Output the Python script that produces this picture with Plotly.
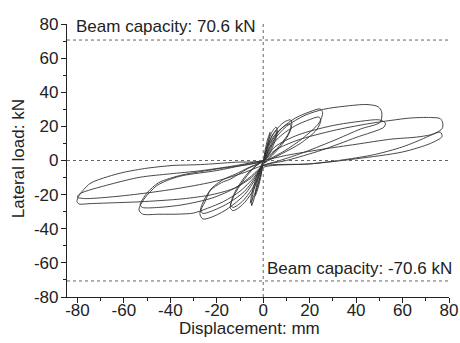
import plotly.graph_objects as go

# Hysteresis cycles (displacement mm, lateral load kN)
c1_x = [0, 0.8, 2.0, 3.0, 2.6, 1.2, 0, -0.8, -2.2, -3.4, -3.2, -1.5, 0]
c1_y = [-1, 6, 13, 16.6, 14, 5, -1, -8, -16, -20.5, -17, -7, -1]

c2_x = [0, 1.5, 3.5, 5.5, 6.0, 5.0, 2.5, 0, -1, -3, -5, -4.8, -3, -1, 0]
c2_y = [0, 8, 16, 19.6, 18, 13, 5, -2, -8, -18, -26.5, -22, -12, -4, 0]

c3_x = [0, 1.5, 4, 6, 5.5, 3, 0, -1.5, -3.5, -5.5, -5, -3, 0]
c3_y = [0, 7, 15, 17.5, 13, 5, -2, -10, -19, -25, -20, -10, 0]

c4_x = [0, 2, 5, 9, 11.8, 12.3, 10.5, 6, 2, 0, -2, -5, -9, -13, -14.2, -12, -7, -3, 0]
c4_y = [0, 9, 17, 22.5, 23.8, 21, 15, 7, 1, -2, -10, -19, -26, -29.4, -27.5, -19, -9, -3, 0]

c5_x = [0, 2, 5, 9, 11.5, 12, 10, 6, 2, 0, -2, -5, -9, -13, -14, -12, -7, -3, 0]
c5_y = [0, 8, 15, 20, 21.5, 19, 13, 6, 0.5, -2, -9, -17, -24, -27.5, -26, -18, -8, -3, 0]

c6_x = [0, 3, 8, 14, 20, 24.5, 25.6, 24, 17, 9, 3, 0, -3, -8, -15, -21, -26, -27.3, -25, -22.8, -18, -14, -7, 0]
c6_y = [0, 10, 19, 25, 28.5, 30.2, 28, 22, 13, 5.5, 1, -2, -10, -20, -28, -32.5, -34.3, -31, -24, -17.6, -13, -10.8, -5, 0]

c7_x = [0, 3, 8, 14, 20, 24, 24.8, 23, 16, 8, 3, 0, -3, -8, -15, -21, -26, -27, -25, -22, -17, -12, -6, 0]
c7_y = [0, 8, 15, 20.5, 24, 25.5, 23.5, 18, 10, 4, 0.5, -2, -9, -18, -25, -29, -31, -29, -22, -16, -11, -8, -4, 0]

c8_x = [0, 4, 10, 18, 26, 35, 44.7, 49.5, 51, 50.4, 42, 30, 16, 6, 0,
        -4, -10, -17, -24, -30, -36, -45, -52, -53.5, -53, -51, -45.8, -40, -34.5, -20, -8, 0]
c8_y = [0, 11, 20, 26.5, 30, 31.8, 32.8, 31.5, 28.5, 22.5, 18.5, 11.5, 4, -0.5, -3,
        -10, -18, -24, -28, -30.8, -31.4, -31.5, -31.4, -29, -26.5, -22, -14.7, -11, -8.8, -5.9, -2.5, 0]

c9_x = [0, 5, 15, 30, 42, 50, 52.6, 52, 40, 25, 10, 0,
        -5, -12, -22, -35, -45, -52, -53, -50, -45, -35, -20, 0]
c9_y = [0, 8, 15, 20.5, 23, 23.8, 22, 19.6, 13.5, 6, 0, -3,
        -9, -16, -22, -26, -27.5, -27.5, -26, -19, -13, -8.5, -5, 0]

c10_x = [0, 5, 15, 30, 45, 55, 63.4, 72, 76.3, 77.3, 77, 70, 60, 48, 35, 20, 0,
         -5, -12, -22, -35, -53, -65, -75, -79.3, -80.2, -79.5, -74.6, -67, -60, -50, -38.8, -27, -12, 0]
c10_y = [0, 6, 12, 17.5, 21.5, 23.5, 24.9, 25.2, 24.5, 22, 18.6, 13.5, 8, 3.5, 0.5, -2, -4,
         -10, -16, -20, -22.5, -24.2, -24.8, -25.3, -25.5, -24, -21, -13.5, -9.5, -6.9, -4.5, -2.9, -2.4, -1, 0]

c11_x = [0, 10, 25, 40, 55, 66, 72, 76.3, 77, 72, 60, 40, 20, 0,
         -8, -20, -35, -50, -65, -77, -80, -79, -66, -53, -40, -27, -12, 0]
c11_y = [0, 3, 6.5, 9.5, 12.5, 13.7, 15, 16.6, 14, 10, 5, 1, -2, -3,
         -7, -12, -16, -19, -21.3, -22.3, -21.5, -19.5, -14, -9.8, -7.8, -6, -3, 0]

cycles_x = [c1_x, c2_x, c3_x, c4_x, c5_x, c6_x, c7_x, c8_x, c9_x, c10_x, c11_x]
cycles_y = [c1_y, c2_y, c3_y, c4_y, c5_y, c6_y, c7_y, c8_y, c9_y, c10_y, c11_y]

beam_capacity = 70.6
x_ticks = [-80, -60, -40, -20, 0, 20, 40, 60, 80]
y_ticks = [-80, -60, -40, -20, 0, 20, 40, 60, 80]

FONT = "Liberation Sans, Arial, sans-serif"
TXT = "#222222"

fig = go.Figure()
for cx, cy in zip(cycles_x, cycles_y):
    fig.add_trace(go.Scatter(x=cx, y=cy, mode="lines",
                             line=dict(color="#333333", width=0.9, shape="spline", smoothing=0.8),
                             showlegend=False, hoverinfo="skip"))

dot = dict(color="#666666", width=1, dash="dot")
fig.add_shape(type="line", xref="x", yref="y", x0=-84.5, x1=80, y0=beam_capacity, y1=beam_capacity, line=dot)
fig.add_shape(type="line", xref="x", yref="y", x0=-84.5, x1=80, y0=-beam_capacity, y1=-beam_capacity, line=dot)
fig.add_shape(type="line", xref="x", yref="y", x0=-84.5, x1=80, y0=0, y1=0, line=dot)
fig.add_shape(type="line", xref="x", yref="y", x0=0, x1=0, y0=-80, y1=81, line=dot)

fig.add_annotation(x=-81.5, y=78.5, xref="x", yref="y", text=f"Beam capacity: {beam_capacity} kN",
                   showarrow=False, xanchor="left", yanchor="middle",
                   font=dict(family=FONT, size=17, color=TXT))
fig.add_annotation(x=0.8, y=-63.5, xref="x", yref="y", text=f"Beam capacity: -{beam_capacity} kN",
                   showarrow=False, xanchor="left", yanchor="middle",
                   font=dict(family=FONT, size=17, color=TXT))

# axis titles
fig.add_annotation(x=0.479, y=0, xref="paper", yref="paper", yshift=-31, text="Displacement: mm",
                   showarrow=False, xanchor="center", yanchor="middle",
                   font=dict(family=FONT, size=17, color=TXT))
fig.add_annotation(x=0, y=0.505, xref="paper", yref="paper", xshift=-49, text="Lateral load: kN",
                   textangle=-90, showarrow=False, xanchor="center", yanchor="middle",
                   font=dict(family=FONT, size=17, color=TXT))

axis_common = dict(showline=True, linecolor="#222222", linewidth=1.2, ticks="outside",
                   ticklen=5, tickwidth=1.2, tickcolor="#222222", showgrid=False, zeroline=False,
                   automargin=False,
                   tickfont=dict(family=FONT, size=17, color=TXT),
                   minor=dict(ticks="outside", ticklen=3, tickwidth=1, tickcolor="#222222", dtick=10, showgrid=False))

fig.update_xaxes(range=[-84.5, 80], tickvals=x_ticks, ticktext=[str(v) for v in x_ticks],
                 ticklabelstandoff=-8, **axis_common)
fig.update_yaxes(range=[-80, 80], tickvals=y_ticks, ticktext=[str(v) for v in y_ticks],
                 ticklabelstandoff=-1, **axis_common)

fig.update_layout(width=460, height=343, margin=dict(l=67, r=11, t=24, b=46),
                  plot_bgcolor="white", paper_bgcolor="white")

fig.write_html("out.html", config={"displayModeBar": False},
               post_script="document.body.style.margin='0';document.body.style.overflow='hidden';")
